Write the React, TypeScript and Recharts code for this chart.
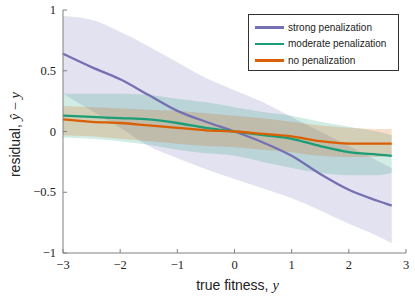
import React from "react";
import { ComposedChart, Line, Area, XAxis, YAxis } from "recharts";

const xs = [-3, -2.5, -2, -1.5, -1, -0.5, 0, 0.5, 1, 1.5, 2, 2.5, 2.75];

const strongMean = [0.64, 0.53, 0.43, 0.3, 0.17, 0.08, 0.0, -0.09, -0.2, -0.35, -0.48, -0.57, -0.61];
const strongHigh = [0.95, 0.92, 0.82, 0.7, 0.57, 0.44, 0.34, 0.24, 0.12, 0.0, -0.12, -0.24, -0.3];
const strongLow = [0.31, 0.17, 0.03, -0.12, -0.22, -0.31, -0.39, -0.47, -0.55, -0.65, -0.76, -0.86, -0.92];

const moderateMean = [0.13, 0.12, 0.11, 0.1, 0.07, 0.03, 0.0, -0.03, -0.06, -0.12, -0.17, -0.19, -0.2];
const moderateHigh = [0.31, 0.31, 0.31, 0.3, 0.27, 0.24, 0.2, 0.16, 0.13, 0.08, 0.04, 0.0, -0.03];
const moderateLow = [-0.05, -0.06, -0.08, -0.11, -0.15, -0.18, -0.2, -0.25, -0.3, -0.34, -0.36, -0.36, -0.34];

const noneMean = [0.1, 0.08, 0.07, 0.05, 0.03, 0.01, 0.0, -0.02, -0.04, -0.08, -0.1, -0.1, -0.1];
const noneHigh = [0.21, 0.2, 0.19, 0.18, 0.17, 0.15, 0.13, 0.11, 0.08, 0.05, 0.03, 0.02, 0.02];
const noneLow = [-0.03, -0.04, -0.06, -0.08, -0.1, -0.12, -0.13, -0.15, -0.17, -0.2, -0.21, -0.21, -0.2];

const xTicks = [-3, -2, -1, 0, 1, 2, 3];
const yTicks = [-1, -0.5, 0, 0.5, 1];

const seriesNames = ["strong penalization", "moderate penalization", "no penalization"];
const seriesColors = ["#7570b3", "#1b9e77", "#d95f02"];

const data = xs.map((x, i) => ({
  x,
  strong: strongMean[i],
  strongBand: [strongLow[i], strongHigh[i]],
  moderate: moderateMean[i],
  moderateBand: [moderateLow[i], moderateHigh[i]],
  none: noneMean[i],
  noneBand: [noneLow[i], noneHigh[i]],
}));

const AXIS = "#808080";
const SERIF = "'Liberation Serif', 'Times New Roman', serif";
const SANS = "'Liberation Sans', Arial, sans-serif";

const fmt = (v: number) => (v < 0 ? "\u2212" + String(Math.abs(v)) : String(v));

const XTick = (props: any) => {
  const { x, y, payload } = props;
  return (
    <g>
      <line x1={x} x2={x} y1={y} y2={y - 4} stroke={AXIS} strokeWidth={1} />
      <text x={x} y={y + 16} textAnchor="middle" fontFamily={SERIF} fontSize={12.5} fill="#222">
        {fmt(payload.value)}
      </text>
    </g>
  );
};

const YTick = (props: any) => {
  const { x, y, payload } = props;
  return (
    <g>
      <line x1={x} x2={x + 4} y1={y} y2={y} stroke={AXIS} strokeWidth={1} />
      <text x={x - 7} y={y + 4} textAnchor="end" fontFamily={SERIF} fontSize={12.5} fill="#222">
        {fmt(payload.value)}
      </text>
    </g>
  );
};

const XLabel = (props: any) => {
  const vb = props.viewBox || {};
  return (
    <text x={vb.x + vb.width / 2 + 3} y={vb.y + 37} textAnchor="middle" fontFamily={SANS} fontSize={14} fill="#222">
      true fitness,{" "}
      <tspan fontFamily={SERIF} fontStyle="italic" fontSize={14.5}>y</tspan>
    </text>
  );
};

const YLabel = (props: any) => {
  const vb = props.viewBox || {};
  const cy = vb.y + vb.height / 2 + 3;
  const cx = 20;
  return (
    <text x={cx} y={cy} textAnchor="middle" transform={`rotate(-90, ${cx}, ${cy})`} fontFamily={SANS} fontSize={14} fill="#222">
      residual,{" "}
      <tspan fontFamily={SERIF} fontStyle="italic" fontSize={14.5}>{"\u0177"}</tspan>
      <tspan fontFamily={SERIF} fontSize={14.5}>{" \u2212 "}</tspan>
      <tspan fontFamily={SERIF} fontStyle="italic" fontSize={14.5}>y</tspan>
    </text>
  );
};

const LegendBox = () => (
  <div
    style={{
      position: "absolute",
      left: 248,
      top: 14,
      width: 151,
      height: 57,
      boxSizing: "border-box",
      border: "1px solid #333",
      background: "#fff",
      padding: "4px 0 0 6px",
      fontFamily: SANS,
      fontSize: 10,
      color: "#222",
    }}
  >
    {seriesNames.map((n, i) => (
      <div key={n} style={{ display: "flex", alignItems: "center", height: 16.5 }}>
        <div style={{ width: 29, height: 2.5, background: seriesColors[i], marginRight: 4 }} />
        <span>{n}</span>
      </div>
    ))}
  </div>
);

export default function App() {
  return (
    <div style={{ position: "absolute", left: 0, top: 0, width: 415, height: 298, background: "#fff" }}>
      <ComposedChart width={415} height={298} data={data} margin={{ top: 10, right: 9, bottom: 15, left: 23 }}>
        <XAxis
          dataKey="x"
          type="number"
          domain={[-3, 3]}
          ticks={xTicks}
          tickLine={false}
          tickSize={0}
          tickMargin={0}
          axisLine={{ stroke: AXIS, strokeWidth: 1 }}
          tick={<XTick />}
          height={30}
          interval={0}
          label={<XLabel />}
        />
        <YAxis
          type="number"
          domain={[-1, 1]}
          ticks={yTicks}
          tickLine={false}
          tickSize={0}
          tickMargin={0}
          axisLine={{ stroke: AXIS, strokeWidth: 1 }}
          tick={<YTick />}
          width={40}
          interval={0}
          label={<YLabel />}
        />
        <Area dataKey="strongBand" type="monotone" stroke="none" fill="#7570b3" fillOpacity={0.2} isAnimationActive={false} legendType="none" />
        <Area dataKey="moderateBand" type="monotone" stroke="none" fill="#1b9e77" fillOpacity={0.2} isAnimationActive={false} legendType="none" />
        <Area dataKey="noneBand" type="monotone" stroke="none" fill="#d95f02" fillOpacity={0.2} isAnimationActive={false} legendType="none" />
        <Line dataKey="strong" name={seriesNames[0]} type="monotone" stroke="#7570b3" strokeWidth={2.3} dot={false} isAnimationActive={false} />
        <Line dataKey="moderate" name={seriesNames[1]} type="monotone" stroke="#1b9e77" strokeWidth={2.3} dot={false} isAnimationActive={false} />
        <Line dataKey="none" name={seriesNames[2]} type="monotone" stroke="#d95f02" strokeWidth={2.3} dot={false} isAnimationActive={false} />
      </ComposedChart>
      <LegendBox />
    </div>
  );
}
